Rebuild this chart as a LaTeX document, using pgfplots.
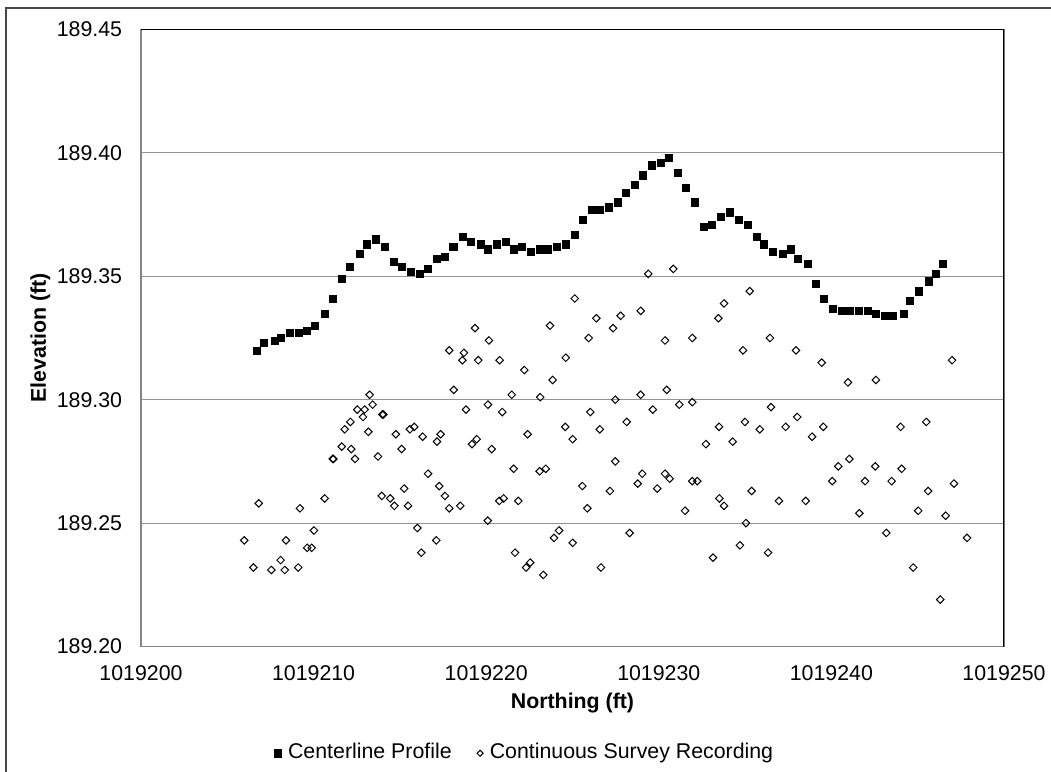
\documentclass[border=0pt]{standalone}
\usepackage{pgfplots}
\pgfplotsset{compat=1.18}
\usepackage{fontspec}
\setmainfont{Liberation Sans}
\pgfplotsset{
  sqleg/.style={legend image code/.code={\draw[##1, mark size=2.7pt] plot coordinates {(0cm,-0.05cm)};}},
  dmleg/.style={legend image code/.code={\draw[##1, mark size=1.6pt] plot coordinates {(0cm,-0.05cm)};}},
}
\begin{document}
% x values: Northing - 1019200 ft ; y values: Elevation - 189 ft (offsets avoid TeX float precision loss)
\begin{tikzpicture}
\path[use as bounding box] (-105.75pt,-94.125pt) rectangle (682.5pt,484.875pt);
\draw[black!72, line width=1.3pt] (-101.25pt,-100pt) -- (-101.25pt,478.9pt) -- (690pt,478.9pt);
\begin{axis}[
  scale only axis,
  width=647.25pt, height=462.75pt,
  xmin=0, xmax=50, ymin=0.20, ymax=0.45,
  xtick={0,10,20,30,40,50},
  xticklabels={1019200,1019210,1019220,1019230,1019240,1019250},
  ytick={0.20,0.25,0.30,0.35,0.40,0.45},
  yticklabels={189.20,189.25,189.30,189.35,189.40,189.45},
  major tick length=0pt,
  tick style={draw=none},
  ymajorgrids,
  grid style={draw=black!42, line width=0.8pt},
  axis line style={draw=black!48, line width=0.8pt},
  font=\fontsize{16}{19.2}\selectfont,
  ticklabel style={font=\fontsize{16}{19.2}\selectfont},
  yticklabel style={anchor=east, inner sep=0pt, xshift=-14pt},
  xticklabel style={anchor=north, inner sep=0pt, yshift=-13.9pt},
  xlabel={\textbf{Northing (ft)}},
  ylabel={\textbf{Elevation (ft)}},
  xlabel style={at={(axis description cs:0.5,-0.0924)}, anchor=center},
  ylabel style={at={(axis description cs:-0.1165,0.5)}, anchor=center},
  legend style={at={(axis description cs:0.445,-0.170)}, anchor=center, draw=none, fill=none,
    legend columns=2, font=\fontsize{16}{19.2}\selectfont,
    /tikz/every odd column/.append style={column sep=3pt},
    /tikz/every even column/.append style={column sep=17pt},
    nodes={inner sep=2pt}},
]
\addplot[only marks, mark=square*, mark size=2.7pt, mark options={fill=black, draw=black, line width=0.3pt}, sqleg]
coordinates {
(6.70,0.320) (7.13,0.323) (7.75,0.324) (8.09,0.325) (8.63,0.327) (9.15,0.327) (9.60,0.328) (10.08,0.330)
(10.66,0.335) (11.12,0.341) (11.65,0.349) (12.11,0.354) (12.69,0.359) (13.09,0.363) (13.62,0.365) (14.14,0.362)
(14.66,0.356) (15.12,0.354) (15.64,0.352) (16.16,0.351) (16.63,0.353) (17.15,0.357) (17.61,0.358) (18.09,0.362)
(18.66,0.366) (19.12,0.364) (19.70,0.363) (20.10,0.361) (20.63,0.363) (21.15,0.364) (21.61,0.361) (22.07,0.362)
(22.60,0.360) (23.12,0.361) (23.58,0.361) (24.10,0.362) (24.62,0.363) (25.14,0.367) (25.61,0.373) (26.13,0.377)
(26.59,0.377) (27.11,0.378) (27.61,0.380) (28.10,0.384) (28.60,0.387) (29.08,0.391) (29.61,0.395) (30.11,0.396)
(30.59,0.398) (31.11,0.392) (31.58,0.386) (32.10,0.380) (32.62,0.370) (33.08,0.371) (33.60,0.374) (34.13,0.376)
(34.65,0.373) (35.17,0.371) (35.67,0.366) (36.10,0.363) (36.62,0.360) (37.20,0.359) (37.66,0.361) (38.06,0.357)
(38.64,0.355) (39.11,0.347) (39.57,0.341) (40.09,0.337) (40.61,0.336) (41.08,0.336) (41.60,0.336) (42.12,0.336)
(42.58,0.335) (43.10,0.334) (43.57,0.334) (44.21,0.335) (44.55,0.340) (45.08,0.344) (45.65,0.348) (46.06,0.351)
(46.47,0.355)
};
\addlegendentry{Centerline Profile}
\addplot[only marks, mark=square, mark size=2pt, mark options={rotate=45, draw=black, line width=0.75pt}, dmleg]
coordinates {
(25.13,0.341) (26.38,0.333) (23.70,0.330) (19.35,0.329) (20.16,0.324) (25.94,0.325) (17.86,0.320) (18.71,0.319)
(18.62,0.316) (19.54,0.316) (20.78,0.316) (24.61,0.317) (22.21,0.312) (23.85,0.308) (18.12,0.304) (13.25,0.302)
(21.48,0.302) (23.13,0.301) (13.42,0.298) (12.53,0.296) (12.96,0.296) (12.86,0.293) (13.98,0.294) (14.05,0.294)
(18.83,0.296) (20.10,0.298) (20.93,0.295) (26.03,0.295)
(12.13,0.291) (11.80,0.288) (13.17,0.287) (14.77,0.286) (15.58,0.288) (15.83,0.289) (16.32,0.285) (17.36,0.286)
(17.15,0.283) (19.18,0.282) (19.45,0.284) (20.32,0.280) (22.40,0.286) (24.58,0.289) (25.01,0.284) (26.58,0.288)
(11.63,0.281) (12.18,0.280) (11.11,0.276) (11.15,0.276) (12.40,0.276) (13.73,0.277) (15.10,0.280) (16.63,0.270)
(17.28,0.265) (17.61,0.261) (17.86,0.256) (18.50,0.257) (15.25,0.264) (13.95,0.261) (14.44,0.260) (14.68,0.257)
(15.47,0.257) (21.59,0.272) (23.10,0.271) (23.45,0.272) (25.57,0.265) (25.86,0.256) (20.76,0.259) (21.01,0.260)
(21.86,0.259) (20.09,0.251) (6.82,0.258) (9.21,0.256) (10.64,0.260) (5.98,0.243) (8.40,0.243) (10.02,0.247)
(9.63,0.240) (9.89,0.240) (6.51,0.232) (7.55,0.231) (8.09,0.235) (8.33,0.231) (9.11,0.232) (16.01,0.248)
(17.11,0.243) (16.24,0.238) (21.67,0.238) (22.31,0.232) (22.55,0.234) (23.31,0.229) (23.93,0.244) (24.22,0.247)
(25.01,0.242) (26.65,0.232)
(29.39,0.351) (30.84,0.353) (35.27,0.344) (28.95,0.336) (27.79,0.334) (27.35,0.329) (33.78,0.339) (33.45,0.333)
(30.36,0.324) (31.94,0.325) (34.88,0.320) (36.44,0.325) (37.95,0.320) (39.44,0.315) (40.96,0.307) (42.58,0.308)
(46.99,0.316) (27.48,0.300) (28.95,0.302) (30.46,0.304) (29.65,0.296) (31.19,0.298) (31.94,0.299) (36.50,0.297)
(38.02,0.293)
(28.14,0.291) (33.49,0.289) (34.99,0.291) (35.85,0.288) (37.35,0.289) (38.88,0.285) (39.53,0.289) (32.73,0.282)
(34.28,0.283) (44.01,0.289) (45.50,0.291) (27.48,0.275) (27.17,0.263) (28.78,0.266) (29.04,0.270) (29.91,0.264)
(30.36,0.270) (30.63,0.268) (31.94,0.267) (32.23,0.267) (31.52,0.255) (33.51,0.260) (33.78,0.257) (35.38,0.263)
(36.96,0.259) (38.51,0.259) (40.05,0.267) (40.40,0.273) (41.04,0.276) (41.95,0.267) (42.54,0.273) (43.49,0.267)
(44.07,0.272) (41.62,0.254) (45.03,0.255) (45.60,0.263) (47.10,0.266) (46.62,0.253) (28.31,0.246) (33.14,0.236)
(34.70,0.241) (35.05,0.250) (36.33,0.238) (43.18,0.246) (44.74,0.232) (46.31,0.219) (47.86,0.244)
};
\addlegendentry{Continuous Survey Recording}
\draw[black, line width=0.9pt] (rel axis cs:0,1) -- (rel axis cs:1,1) -- (rel axis cs:1,0);
\end{axis}
\end{tikzpicture}
\end{document}
